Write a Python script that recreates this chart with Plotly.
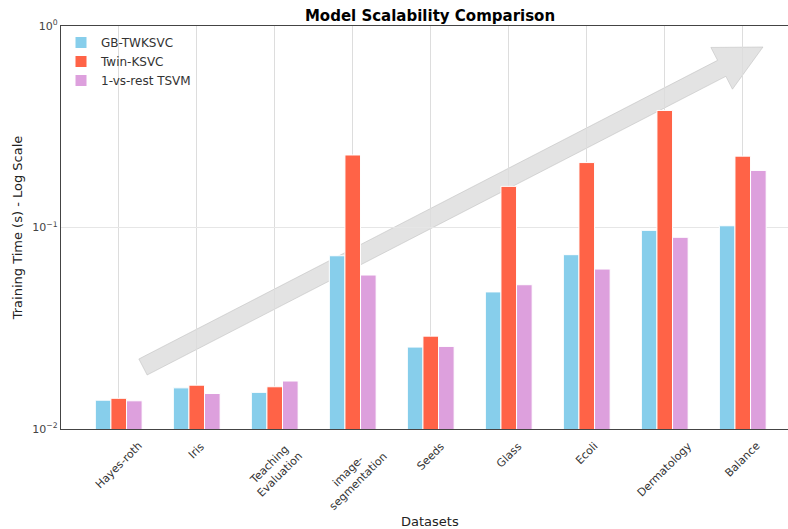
import numpy as np
import plotly.graph_objects as go

# Training times (seconds) per dataset for each model
datasets = ["Hayes-roth", "Iris", "Teaching<br>Evaluation", "image-<br>segmentation",
            "Seeds", "Glass", "Ecoli", "Dermatology", "Balance"]
gb_twksvc = [0.0139, 0.0160, 0.0152, 0.0724, 0.0255, 0.0479, 0.0733, 0.0968, 0.102]
twin_ksvc = [0.0142, 0.0165, 0.0162, 0.229, 0.0289, 0.160, 0.210, 0.381, 0.226]
ovr_tsvm = [0.0138, 0.0150, 0.0173, 0.0581, 0.0257, 0.0520, 0.0622, 0.0894, 0.192]

series = [
    ("GB-TWKSVC", gb_twksvc, "#87CEEB"),
    ("Twin-KSVC", twin_ksvc, "#FF6347"),
    ("1-vs-rest TSVM", ovr_tsvm, "#DDA0DD"),
]

W, H = 788, 529
ML, MR, MT, MB = 61, 0, 26, 100
PW, PH = W - ML - MR, H - MT - MB

fig = go.Figure()
for name, vals, color in series:
    fig.add_trace(go.Bar(
        x=datasets, y=vals, name=name,
        marker=dict(color=color, line=dict(color="white", width=1)),
    ))

# Decorative trend arrow, built in pixel space of the plot area then mapped to paper coords
tail = np.array([143.0 - ML, 367.0 - MT])
tip = np.array([763.0 - ML, 47.0 - MT])
shaft_hw, head_hw, head_len = 9.0, 23.5, 46.5
u = (tip - tail) / np.linalg.norm(tip - tail)
n = np.array([-u[1], u[0]])
base = tip - head_len * u
pts = [tail - shaft_hw * n, base - shaft_hw * n, base - head_hw * n, tip,
       base + head_hw * n, base + shaft_hw * n, tail + shaft_hw * n]
path = "M " + " L ".join(f"{p[0] / PW:.4f},{1 - p[1] / PH:.4f}" for p in pts) + " Z"
fig.add_shape(type="path", path=path, xref="paper", yref="paper", layer="between",
              fillcolor="rgba(200,200,200,0.5)",
              line=dict(color="rgba(185,185,185,0.5)", width=1))

# Rotated, centre-aligned dataset labels
for d in datasets:
    fig.add_annotation(x=d, xref="x", y=0, yref="paper", yanchor="top", xanchor="center",
                       yshift=-8, text=d, textangle=-45, showarrow=False,
                       font=dict(family="DejaVu Sans", size=11, color="#333333"))

cx = (430 - ML) / PW
fig.add_annotation(x=cx, xref="paper", y=(MT + PH - 521) / PH, yref="paper", yanchor="middle",
                   text="Datasets", showarrow=False,
                   font=dict(family="DejaVu Sans", size=13, color="#222222"))

fig.update_layout(
    width=W, height=H,
    margin=dict(l=ML, r=MR, t=MT, b=MB),
    paper_bgcolor="white", plot_bgcolor="white",
    barmode="group", bargap=0.4, bargroupgap=0.0,
    title=dict(text="<b>Model Scalability Comparison</b>", x=cx, xref="paper", xanchor="center",
               y=1 - 16 / H, yref="container", yanchor="middle",
               font=dict(family="DejaVu Sans", size=15, color="black")),
    legend=dict(x=0.0, y=0.995, xanchor="left", yanchor="top", bgcolor="rgba(255,255,255,0)",
                font=dict(family="DejaVu Sans", size=12, color="#333333"), tracegroupgap=0),
    font=dict(family="DejaVu Sans"),
)
fig.update_xaxes(
    range=[-0.74, 8.58], showticklabels=False, ticks="",
    showgrid=True, gridcolor="#dddddd", gridwidth=1,
    showline=True, linecolor="#444444", linewidth=1.3, mirror=True,
)
fig.update_yaxes(
    type="log", range=[-2, 0],
    tickvals=[0.01, 0.1, 1], ticktext=["10<sup>−2</sup>", "10<sup>−1</sup>", "10<sup>0</sup>"],
    tickfont=dict(family="DejaVu Sans", size=11, color="#444444"), ticks="",
    showgrid=True, gridcolor="#e6e6e6", gridwidth=1,
    showline=True, linecolor="#444444", linewidth=1.3, mirror=True,
    title=dict(text="Training Time (s) - Log Scale", standoff=6,
               font=dict(family="DejaVu Sans", size=13, color="#222222")),
)

fig.write_html("out.html")
